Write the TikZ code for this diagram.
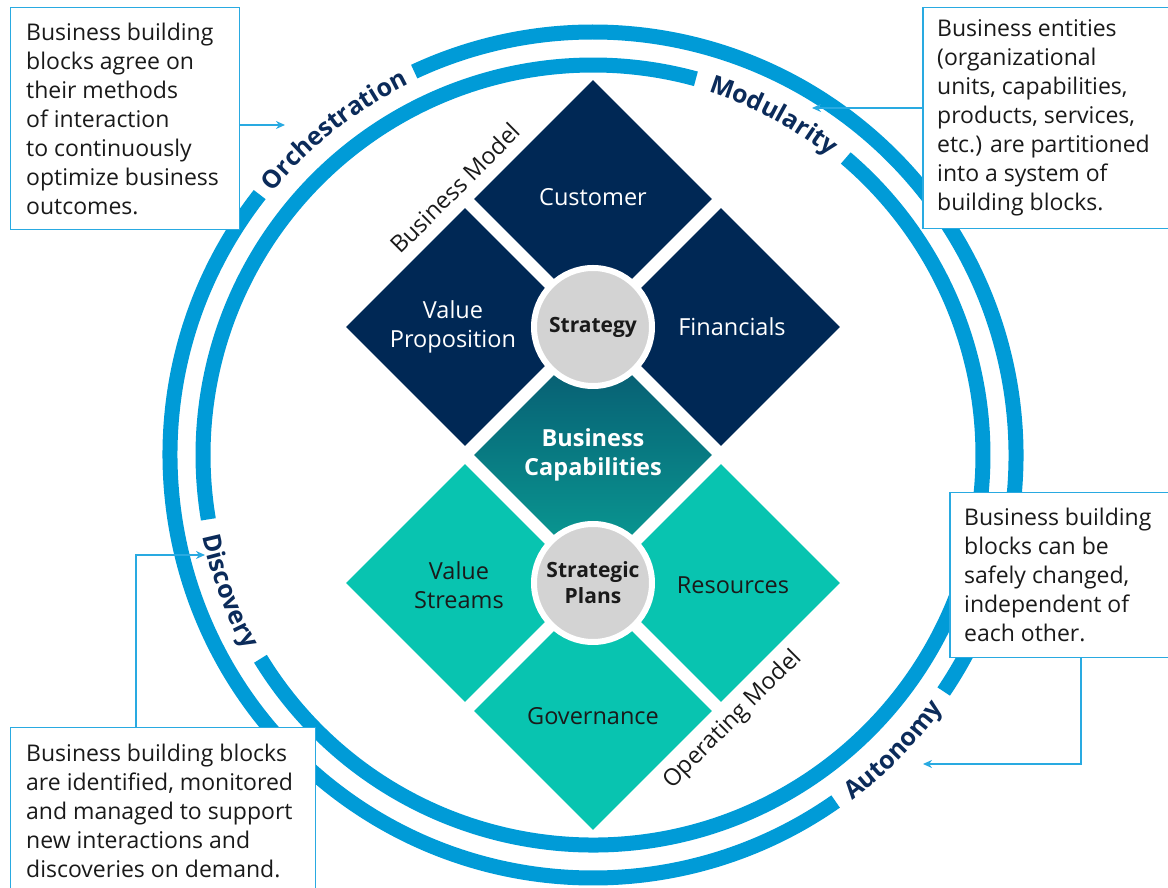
\documentclass[tikz,border=0pt]{standalone}
\usepackage{fontspec}
\setmainfont{Open Sans}
\usetikzlibrary{shapes.geometric,decorations.text,arrows.meta}
\definecolor{ringblue}{HTML}{009BD7}
\definecolor{boxblue}{HTML}{29AAE1}
\definecolor{navy}{HTML}{002855}
\definecolor{mint}{HTML}{08C4B0}
\definecolor{capdark}{HTML}{07556E}
\definecolor{caplight}{HTML}{0AA096}
\definecolor{disc}{HTML}{D3D3D3}
\definecolor{ink}{HTML}{1A1A1A}
\definecolor{lblnavy}{HTML}{0B2B5A}
\def\notefont{\fontsize{23}{29}\selectfont}
\def\blockfont{\fontsize{23.5}{29}\selectfont}
\def\hubfont{\fontsize{21}{26}\selectfont\bfseries}
\def\modelfont{\fontsize{23.5}{23.5}\selectfont}
\def\ringfont{\fontsize{25}{25}\selectfont\bfseries\color{lblnavy}}
\tikzset{
  ring/.style={draw=ringblue,line width=15pt},
  block/.style={diamond,minimum width=238pt,minimum height=238pt,inner sep=0pt},
  blabel/.style={font=\blockfont,align=center,text=white,inner sep=0pt},
  hub/.style={circle,fill=disc,draw=white,line width=6pt,minimum size=118pt,
    inner sep=0pt,font=\hubfont,align=center,text=ink},
  callout/.style={draw=boxblue,line width=1.5pt,fill=white,inner sep=0pt},
  note/.style={align=left,font=\notefont,text=ink,inner sep=0pt},
  link/.style={draw=boxblue,line width=1.5pt,-{Stealth[length=9pt,width=8pt]}},
  arclabel/.style={decorate,decoration={text along path,text align=center,text={|\ringfont|#1}}}
}
\begin{document}
\begin{tikzpicture}[x=1pt,y=1pt]
\path[use as bounding box,clip] (-593,-433) rectangle (575,455);
% outer and inner rings, with gaps for the labels
\draw[ring] (142:423) arc[start angle=142,end angle=305,radius=423];
\draw[ring] (326:423) arc[start angle=326,end angle=475,radius=423];
\draw[ring] (74.7:390) arc[start angle=74.7,end angle=189.5,radius=390];
\draw[ring] (211.5:390) arc[start angle=211.5,end angle=409.6,radius=390];
\path[arclabel=Orchestration] (143:414) arc[start angle=143,end angle=114,radius=414];
\path[arclabel=Modularity] (75:381) arc[start angle=75,end angle=49,radius=381];
\path[arclabel=Discovery] (189:399) arc[start angle=189,end angle=212,radius=399];
\path[arclabel=Autonomy] (304:432) arc[start angle=304,end angle=327,radius=432];
% business model
\node[block,fill=navy] (cust) at (0,256) {};
\node[block,fill=navy] (vprop) at (-128,128) {};
\node[block,fill=navy] (fin) at (128,128) {};
\node[block,top color=capdark,bottom color=caplight] (bcap) at (0,0) {};
% operating model
\node[block,fill=mint] (vstr) at (-128,-128) {};
\node[block,fill=mint] (res) at (128,-128) {};
\node[block,fill=mint] (gov) at (0,-256) {};
\node[hub] (strat) at (0,128) {Strategy};
\node[hub] (splan) at (0,-128) {Strategic\\Plans};
\node[blabel] (custtxt) at ([yshift=2]cust) {Customer};
\node[blabel] (vproptxt) at ([xshift=-12]vprop) {Value\\Proposition};
\node[blabel] (fintxt) at ([xshift=11]fin) {Financials};
\node[blabel,font=\blockfont\bfseries] (bcaptxt) at (bcap) {Business\\Capabilities};
\node[blabel,text=ink] (vstrtxt) at ([xshift=-6,yshift=-2]vstr) {Value\\Streams};
\node[blabel,text=ink] (restxt) at ([xshift=12,yshift=-2]res) {Resources};
\node[blabel,text=ink] (govtxt) at ([yshift=-5]gov) {Governance};
\node[rotate=45,font=\modelfont,text=ink] (bmodel) at (-138,267) {Business Model};
\node[rotate=45,font=\modelfont,text=ink] (omodel) at (140,-265) {Operating Model};
% callouts
\node[callout,minimum width=229pt,minimum height=222pt,anchor=north west] (tlbox) at (-583,448) {};
\node[note,anchor=west] (tltxt) at ([xshift=16]tlbox.west) {Business building\\blocks agree on\\their methods\\of interaction\\to continuously\\optimize business\\outcomes.};
\node[callout,minimum width=260pt,minimum height=221pt,anchor=north west] (trbox) at (329,448) {};
\node[note,anchor=west] (trtxt) at ([xshift=15]trbox.west) {Business entities\\(organizational\\units, capabilities,\\products, services,\\etc.) are partitioned\\into a system of\\building blocks.};
\node[callout,minimum width=240pt,minimum height=165pt,anchor=north west] (rbox) at (356,-37) {};
\node[note,anchor=west] (rtxt) at ([xshift=15]rbox.west) {Business building\\blocks can be\\safely changed,\\independent of\\each other.};
\node[callout,minimum width=305pt,minimum height=166pt,anchor=north west] (blbox) at (-583,-272) {};
\node[note,anchor=west] (bltxt) at ([xshift=16]blbox.west) {Business building blocks\\are identified, monitored\\and managed to support\\new interactions and\\discoveries on demand.};
\coordinate (orchtip) at (-308,330);
\coordinate (modtip) at (219,347);
\coordinate (auttip) at (330,-309);
\coordinate (distip) at (-388,-100);
\draw[link] (tlbox.east |- orchtip) -- (orchtip);
\draw[link] (trbox.west |- modtip) -- (modtip);
\draw[link] ([xshift=132]rbox.south west) |- (auttip);
\draw[link] ([xshift=126]blbox.north west) |- (distip);
\end{tikzpicture}
\end{document}
